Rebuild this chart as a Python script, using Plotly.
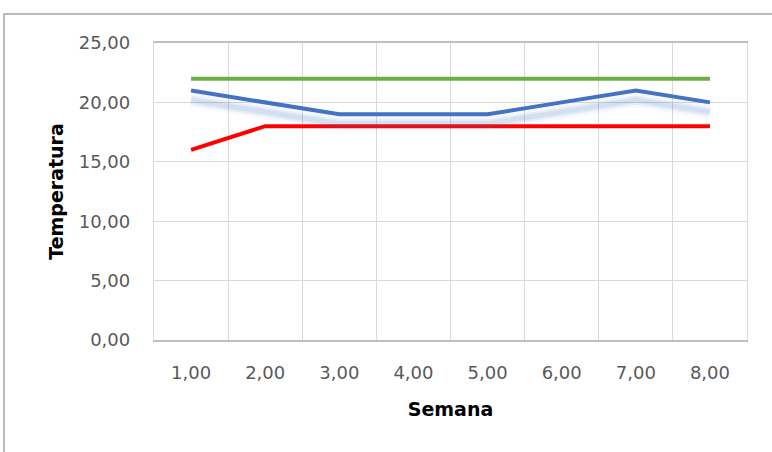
import plotly.graph_objects as go

semanas = [1, 2, 3, 4, 5, 6, 7, 8]
tick_labels = ["1,00", "2,00", "3,00", "4,00", "5,00", "6,00", "7,00", "8,00"]
serie_verde = [22, 22, 22, 22, 22, 22, 22, 22]
serie_azul = [21, 20, 19, 19, 19, 20, 21, 20]
serie_roja = [16, 18, 18, 18, 18, 18, 18, 18]
y_ticks = [0, 5, 10, 15, 20, 25]
y_labels = ["0,00", "5,00", "10,00", "15,00", "20,00", "25,00"]

FONT = "DejaVu Sans"
GRID = "#d9d9d9"

fig = go.Figure()

# soft shadow under blue line (drawn through a slightly shifted overlay axis)
for w, a in [(14, 0.05), (9, 0.08), (5, 0.11)]:
    fig.add_trace(go.Scatter(x=semanas, y=serie_azul, mode="lines", yaxis="y2",
                             line=dict(color=f"rgba(68,114,196,{a})", width=w),
                             hoverinfo="skip", showlegend=False))

fig.add_trace(go.Scatter(x=semanas, y=serie_verde, mode="lines",
                         line=dict(color="#70AD47", width=4), showlegend=False))
fig.add_trace(go.Scatter(x=semanas, y=serie_azul, mode="lines",
                         line=dict(color="#4472C4", width=4), showlegend=False))
fig.add_trace(go.Scatter(x=semanas, y=serie_roja, mode="lines",
                         line=dict(color="#FF0000", width=4), showlegend=False))

half = [s - 0.5 for s in semanas] + [semanas[-1] + 0.5]

fig.update_layout(
    width=772, height=452,
    margin=dict(l=154, r=25, t=43, b=112),
    paper_bgcolor="white", plot_bgcolor="white",
    font=dict(family=FONT, color="#595959", size=18),
    xaxis=dict(
        range=[0.5, 8.5], tickvals=semanas, ticktext=tick_labels,
        showgrid=False, zeroline=False,
        showline=True, linecolor="#bfbfbf", linewidth=1.5, mirror=True,
        ticks="outside", ticklen=0, tickcolor="rgba(0,0,0,0)",
        ticklabelstandoff=16,
        tickfont=dict(family=FONT, size=18, color="#595959"),
        minor=dict(tickvals=half, showgrid=True, gridcolor=GRID, gridwidth=1.3),
        title=dict(text="<b>Semana</b>", standoff=20,
                   font=dict(family=FONT, size=19, color="black")),
    ),
    yaxis=dict(
        range=[0, 25], tickvals=y_ticks, ticktext=y_labels,
        showgrid=True, gridcolor=GRID, gridwidth=1.3, zeroline=False,
        showline=True, linecolor=GRID, linewidth=1.3, mirror=True,
        ticks="outside", ticklen=0, tickcolor="rgba(0,0,0,0)",
        ticklabelstandoff=19,
        tickfont=dict(family=FONT, size=18, color="#595959"),
        title=dict(text="<b>Temperatura</b>", standoff=10,
                   font=dict(family=FONT, size=19, color="black")),
    ),
    yaxis2=dict(range=[0.8, 25.8], overlaying="y", visible=False),
    shapes=[dict(type="rect", xref="paper", yref="paper",
                 x0=-0.253, x1=1.06, y0=-0.40, y1=1.0976,
                 line=dict(color="#a6a6a6", width=1.5), layer="below")],
)

fig.write_html("out.html", config={"displayModeBar": False},
               post_script="document.body.style.margin='0';document.body.style.overflow='hidden';")
